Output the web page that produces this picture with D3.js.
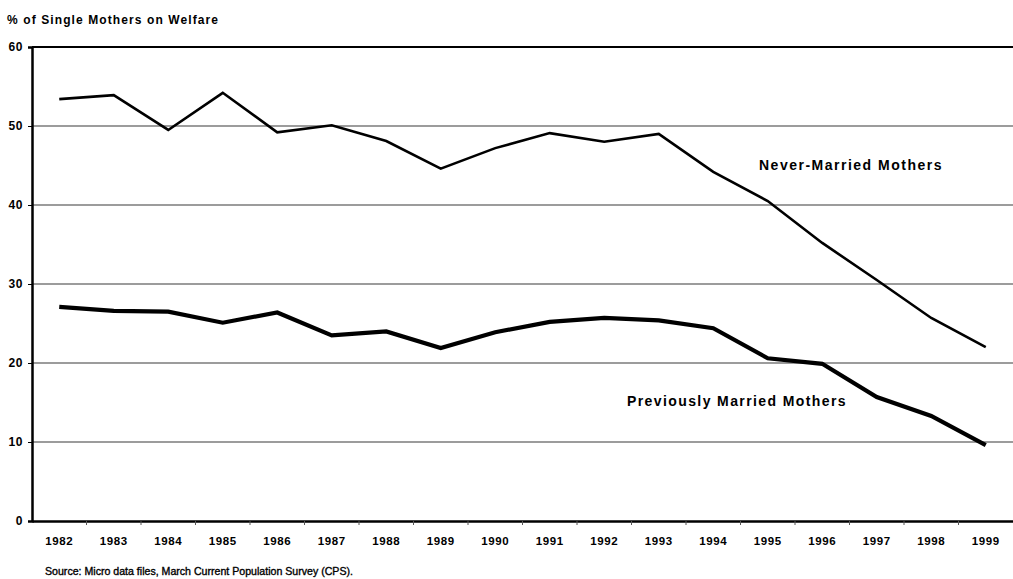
<!DOCTYPE html>
<html><head><meta charset="utf-8">
<script src="https://cdn.jsdelivr.net/npm/d3@7"></script>
<style>
html,body{margin:0;padding:0;background:#fff;}
text{font-family:"Liberation Sans",Arial,sans-serif;fill:#000;}
</style></head>
<body><svg id="c" width="1013" height="579"></svg>
<script>
const years = ["1982","1983","1984","1985","1986","1987","1988","1989","1990","1991","1992","1993","1994","1995","1996","1997","1998","1999"];
const neverMarried = [53.4,53.9,49.5,54.2,49.2,50.1,48.1,44.6,47.2,49.1,48.0,49.0,44.2,40.5,35.2,30.5,25.7,22.0];
const prevMarried = [27.1,26.6,26.5,25.1,26.4,23.5,24.0,21.9,23.9,25.2,25.7,25.4,24.4,20.6,19.9,15.7,13.3,9.6];
const yTicks = [0,10,20,30,40,50,60];
const yTitle = "% of Single Mothers on Welfare";
const source = "Source: Micro data files, March Current Population Survey (CPS).";
const labelNever = "Never-Married Mothers";
const labelPrev = "Previously Married Mothers";

const svg = d3.select("#c");
const pLeft = 32, pRight = 1013, pTop = 47, pBottom = 521;
const x = d3.scaleBand().domain(years).range([pLeft, pRight]);
const y = d3.scaleLinear().domain([0, 60]).range([pBottom, pTop]);

// gridlines
svg.append("g").selectAll("line").data(yTicks.filter(d => d > 0 && d < 60)).join("line")
  .attr("x1", pLeft).attr("x2", pRight).attr("y1", d => y(d)).attr("y2", d => y(d))
  .attr("stroke", "#3a3a3a").attr("stroke-width", 1.2);
// top border
svg.append("line").attr("x1", pLeft).attr("x2", pRight).attr("y1", y(60)).attr("y2", y(60))
  .attr("stroke", "#000").attr("stroke-width", 2);

// y axis
const ya = svg.append("g").attr("transform", `translate(${pLeft},0)`)
  .call(d3.axisLeft(y).tickValues(yTicks).tickSize(4).tickPadding(5));
ya.select(".domain").attr("stroke", "#000").attr("stroke-width", 2.5);
ya.selectAll("text").style("font-size", "12px").style("font-weight", "bold")
  .style("letter-spacing", "0.6px").attr("fill", "#000");
ya.selectAll(".tick line").attr("stroke", "#000");

// x axis
const xa = svg.append("g").attr("transform", `translate(0,${pBottom})`)
  .call(d3.axisBottom(x).tickSize(0).tickPadding(16));
xa.select(".domain").attr("stroke", "#000").attr("stroke-width", 2.5);
xa.selectAll("text").style("font-size", "11.5px").style("font-weight", "bold")
  .style("letter-spacing", "0.6px").attr("fill", "#000");
// tick marks between bands
svg.append("g").selectAll("line").data(years.slice(1)).join("line")
  .attr("x1", d => x(d)).attr("x2", d => x(d)).attr("y1", pBottom).attr("y2", pBottom + 4)
  .attr("stroke", "#555").attr("stroke-width", 1);

const line = d3.line().x((d, i) => x(years[i]) + x.bandwidth() / 2).y(d => y(d));
svg.append("path").datum(neverMarried).attr("d", line).attr("fill", "none")
  .attr("stroke", "#000").attr("stroke-width", 2.6).attr("stroke-linejoin", "miter");
svg.append("path").datum(prevMarried).attr("d", line).attr("fill", "none")
  .attr("stroke", "#000").attr("stroke-width", 4.2).attr("stroke-linejoin", "miter");

svg.append("text").attr("x", 759).attr("y", 170).text(labelNever)
  .style("font-size", "14px").style("font-weight", "bold").style("letter-spacing", "1.5px");
svg.append("text").attr("x", 627).attr("y", 406).text(labelPrev)
  .style("font-size", "14px").style("font-weight", "bold").style("letter-spacing", "1.4px");

svg.append("text").attr("x", 7).attr("y", 24).text(yTitle)
  .style("font-size", "12px").style("font-weight", "bold").style("letter-spacing", "1.1px");
svg.append("text").attr("x", 45).attr("y", 575).text(source)
  .style("font-size", "10.6px").attr("stroke", "#000").attr("stroke-width", 0.35);
</script></body></html>
